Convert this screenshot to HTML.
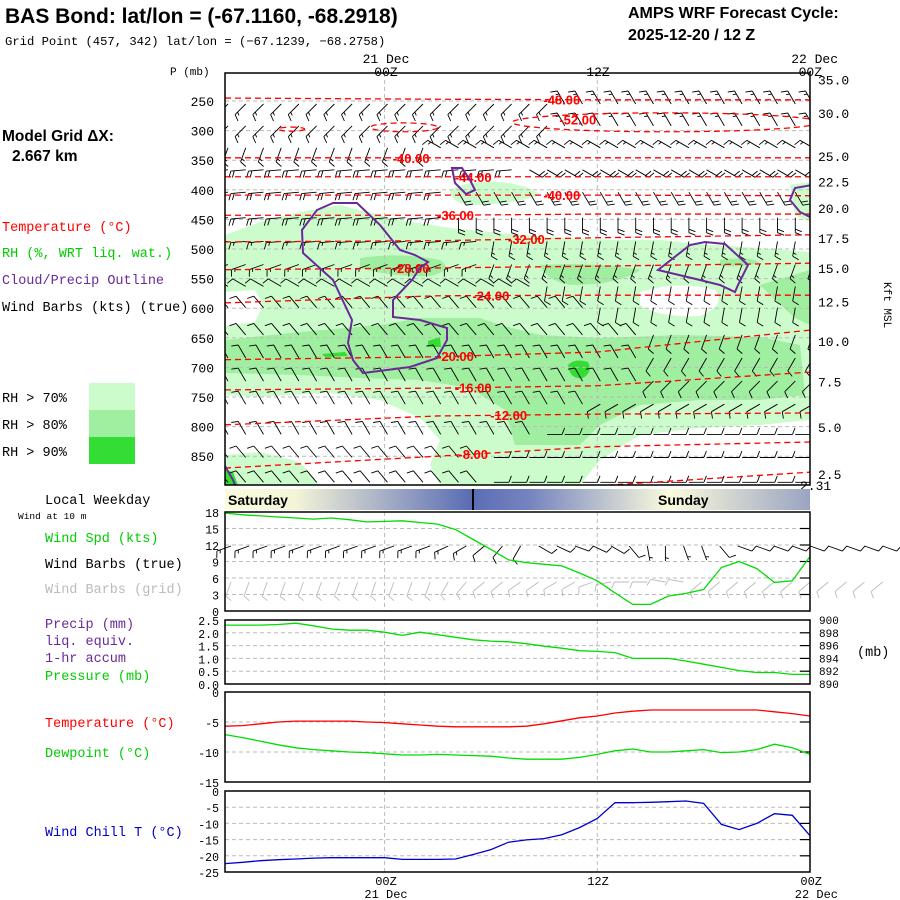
<!DOCTYPE html>
<html><head><meta charset="utf-8"><style>
html,body{margin:0;padding:0;background:#fff;}
svg{display:block;}
.m{font-family:"Liberation Mono",monospace;}
.s{font-family:"Liberation Sans",sans-serif;}
</style></head><body>
<svg id="chart" width="900" height="900" viewBox="0 0 900 900" xmlns="http://www.w3.org/2000/svg">
<defs>
<linearGradient id="wk" x1="0" x2="1" y1="0" y2="0">
<stop offset="0" stop-color="#fbfbdc"/><stop offset="0.12" stop-color="#f4f4d8"/>
<stop offset="0.42" stop-color="#5a6cb4"/><stop offset="0.52" stop-color="#7584bf"/>
<stop offset="0.76" stop-color="#fbfbdc"/><stop offset="1" stop-color="#9aa4c2"/>
</linearGradient>
<clipPath id="topclip"><rect x="225" y="73" width="585" height="412"/></clipPath>
</defs>
<g class="s" font-weight="bold">
<text x="5" y="23" font-size="21">BAS Bond:  lat/lon = (-67.1160, -68.2918)</text>
<text x="628" y="18" font-size="16">AMPS WRF Forecast Cycle:</text>
<text x="628" y="40" font-size="16">2025-12-20 / 12  Z</text>
</g>
<text class="m" x="5" y="45" font-size="12.2">Grid Point (457, 342) lat/lon = (−67.1239, −68.2758)</text>
<g class="s" font-weight="bold" font-size="15.5">
<text x="2" y="141">Model Grid ΔX:</text><text x="12" y="161">2.667 km</text></g>
<g class="m" font-size="13.5">
<text x="2" y="231" fill="#ff0000">Temperature (°C)</text>
<text x="2" y="257" fill="#00cc00">RH (%, WRT liq. wat.)</text>
<text x="2" y="284" fill="#6a2a9a">Cloud/Precip Outline</text>
<text x="2" y="311" fill="#000">Wind Barbs (kts) (true)</text>
<text x="2" y="402">RH &gt; 70%</text>
<text x="2" y="429">RH &gt; 80%</text>
<text x="2" y="456">RH &gt; 90%</text>
</g>
<rect x="89" y="383" width="46" height="27" fill="#ccfccc"/>
<rect x="89" y="410" width="46" height="27" fill="#a0eea0"/>
<rect x="89" y="437" width="46" height="27" fill="#33dd33"/>

<g clip-path="url(#topclip)">
<path fill="#ccfccc" d="M225,235 L260,222 L300,212 L340,205 L400,220 L450,228 L500,233 L560,238 L620,240 L660,240 L700,244 L760,248 L810,252 L810,420 L760,425 L700,428 L640,435 L600,460 L580,485 L440,485 L430,465 L440,440 L420,418 L380,400 L330,393 L290,395 L260,397 L225,395 Z"/>
<path fill="#ccfccc" d="M225,455 L260,452 L300,462 L320,485 L225,485 Z"/>
<path fill="#ccfccc" d="M450,190 Q470,180 500,182 Q530,185 540,195 Q510,205 470,205 Q450,203 450,190 Z"/>
<path fill="#ccfccc" d="M790,185 L810,182 L810,222 L795,215 Z"/>
<path fill="#fff" d="M225,292 L255,290 L263,305 L255,322 L225,326 Z"/>
<path fill="#fff" d="M640,292 Q680,280 715,290 Q727,305 700,316 Q660,318 640,305 Z"/>
<path fill="#a0eea0" d="M225,340 L300,332 L380,325 L420,318 L480,318 L500,325 L540,335 L600,338 L680,335 L760,337 L800,345 L805,395 L760,400 L700,400 L640,405 L600,425 L580,445 L515,445 L505,410 L470,388 L420,380 L360,378 L300,375 L225,373 Z"/>
<path fill="#a0eea0" d="M360,258 Q400,252 440,260 Q455,270 430,276 Q390,277 360,268 Z"/>
<path fill="#a0eea0" d="M540,265 Q600,262 640,270 Q620,285 570,285 Q545,280 540,265 Z"/>
<path fill="#a0eea0" d="M720,260 Q745,256 760,262 Q745,268 720,266 Z"/>
<path fill="#a0eea0" d="M760,285 L810,270 L810,325 L795,318 Q775,300 760,285 Z"/>
<path fill="#33dd33" d="M428,341 L440,337 L441,347 L428,347 Z"/>
<path fill="#33dd33" d="M322,354 L345,352 L348,356 L325,357 Z"/>
<path fill="#33dd33" d="M568,365 Q575,358 588,362 Q593,372 583,378 Q570,380 568,365 Z"/>
<path fill="#33dd33" d="M225,470 L233,472 L238,485 L225,485 Z"/>
</g>
<g id="grid-top"></g>
<g id="barbs-top" clip-path="url(#topclip)"></g>
<g id="contours" clip-path="url(#topclip)"></g>
<g clip-path="url(#topclip)" fill="none" stroke="#6a2a9a" stroke-width="2">
<path d="M333,203 L357,203 L380,225 L400,250 L415,255 L428,262 L420,268 L412,280 L393,300 L393,317 L420,320 L447,328 L447,340 L437,358 L410,367 L363,373 L353,360 L348,343 L352,320 L333,280 L303,253 L302,230 L317,210 Z"/>
<path d="M452,168 L462,168 L470,180 L475,190 L466,194 L455,183 Z"/>
<path d="M658,270 L690,245 L705,242 L725,244 L748,265 L738,285 L735,292 L720,285 L700,280 Z"/>
<path d="M812,185 L795,188 L790,200 L800,212 L812,218"/>
<path d="M225,466 L233,480 L237,490"/>
</g>
<rect x="225" y="73" width="585" height="412" fill="none" stroke="#000" stroke-width="1.5"/>
<g id="axes-top" class="m" font-size="13"></g>

<rect x="225" y="489" width="585" height="21" fill="url(#wk)"/>
<line x1="473" y1="489" x2="473" y2="510" stroke="#000" stroke-width="2"/>
<text class="s" font-weight="bold" font-size="14" x="228" y="505">Saturday</text>
<text class="s" font-weight="bold" font-size="14" x="658" y="505">Sunday</text>

<g class="m" font-size="13.5">
<text x="45" y="504">Local Weekday</text>
<text x="18" y="519" font-size="9.5">Wind at 10 m</text>
<text x="45" y="542" fill="#00cc00">Wind Spd (kts)</text>
<text x="45" y="568">Wind Barbs (true)</text>
<text x="45" y="593" fill="#bbbbbb">Wind Barbs (grid)</text>
<text x="45" y="628" fill="#6a2a9a">Precip (mm)</text>
<text x="45" y="645" fill="#6a2a9a">liq. equiv.</text>
<text x="45" y="662" fill="#6a2a9a">1-hr accum</text>
<text x="45" y="680" fill="#00cc00">Pressure (mb)</text>
<text x="45" y="727" fill="#ff0000">Temperature (°C)</text>
<text x="45" y="757" fill="#00cc00">Dewpoint (°C)</text>
<text x="45" y="836" fill="#0000cc">Wind Chill T (°C)</text>
</g>
<g id="lower"></g>
</svg>
<script>
// ===== data =====
const hours = [-9,-8,-7,-6,-5,-4,-3,-2,-1,0,1,2,3,4,5,6,7,8,9,10,11,12,13,14,15,16,17,18,19,20,21,22,23,24];
const windSpd = [17.8,17.5,17.3,17.1,16.9,16.7,16.9,16.6,16.2,16.3,16.4,16.1,15.8,14.8,13.0,11.2,9.3,8.8,8.5,8.2,6.9,5.5,3.3,1.2,1.2,2.7,3.2,3.9,7.9,9.0,7.7,5.2,5.5,9.9];
const pressure = [899.2,899.2,899.2,899.3,899.5,899.1,898.6,898.4,898.4,898.1,897.6,898.1,897.7,897.3,896.9,896.7,896.6,896.3,895.9,895.6,895.2,895.1,894.9,894.0,894.0,894.0,893.6,893.1,892.6,892.1,891.8,891.8,891.5,891.5];
const precip = [0,0,0,0,0,0,0,0,0,0,0,0,0,0,0,0,0,0,0,0,0,0,0,0,0,0,0,0,0,0,0,0,0,0];
const temperature = [-5.7,-5.6,-5.3,-5.0,-4.85,-4.85,-4.85,-4.85,-5.0,-5.1,-5.3,-5.5,-5.7,-5.8,-5.8,-5.8,-5.8,-5.7,-5.3,-4.8,-4.3,-4.0,-3.5,-3.2,-3.0,-3.0,-3.0,-3.0,-3.0,-3.0,-3.0,-3.3,-3.6,-4.0];
const dewpoint = [-7.1,-7.6,-8.2,-8.8,-9.3,-9.6,-9.8,-10.0,-10.1,-10.3,-10.5,-10.5,-10.4,-10.5,-10.6,-10.7,-11.0,-11.2,-11.2,-11.2,-10.9,-10.4,-9.8,-9.5,-10.0,-10.0,-9.8,-9.6,-10.1,-10.0,-9.6,-8.7,-9.3,-10.4];
const windChill = [-22.4,-22.0,-21.5,-21.2,-21.0,-20.7,-20.6,-20.6,-20.6,-20.6,-21.1,-21.1,-21.1,-21.0,-19.6,-18.1,-15.8,-15.1,-14.7,-13.5,-11.3,-8.5,-3.6,-3.6,-3.5,-3.3,-3.1,-3.8,-10.3,-11.9,-10.0,-7.0,-7.5,-13.8];
const sfcDirTrue = [250,250,250,250,250,250,250,250,250,250,250,250,245,240,230,220,210,120,115,110,115,120,140,170,180,160,160,140,110,110,110,110,110,110,110,110,110];
const sfcSpdTrue = [15,15,15,15,15,15,15,15,15,15,15,15,15,13,10,10,10,10,10,10,10,10,8,5,5,5,5,10,10,10,10,10,10,10,10,10,10];
const sfcDirGrid = [200,200,200,200,200,200,200,200,200,200,200,200,210,220,230,230,235,235,240,240,250,260,270,270,280,280,230,230,230,230,230,230,230,230,230,230,230];
const contourLevels = [-48,-40,-44,-40,-36,-32,-28,-24,-20,-16,-12,-8,-4];
const contourNodeHours = [-9,3,12,24];
const contourP = [[245,247,248,248],[346,346,346,346],[378,378,378,378],[409,409,409,410],[443,443,441,441],[488,486,481,476],[535,532,529,524],[591,579,578,578],[687,682,674,637],[738,735,731,708],[797,782,779,777],[870,850,834,826],[null,null,900,877]];
const contourLabelHour = [10,1.5,5,10,4,8,1.5,6,4,5,7,5,null];
const barbRowP = [245,282,319,356,394,437,477,516,553,589,635,674,713,752,803,842,884];
const barbDirL = [225,225,200,265,265,265,265,250,300,320,320,330,330,330,330,320,320];
const barbDirR = [330,330,300,120,150,180,190,200,190,190,200,210,225,240,90,90,90];
const barbSpd = [15,15,15,20,20,20,15,15,10,10,10,10,10,10,10,10,10];
const barbSwitchHour = [10,10,3,8,4,4,6,6,9,12,15,15,15,12,9,6,6];
const pTicks = [250,300,350,400,450,500,550,600,650,700,750,800,850];
const kmTicks = ['35.0','30.0','25.0','22.5','20.0','17.5','15.0','12.5','10.0','7.5','5.0','2.5'];
const kmTickP = [214,270,343,386,431,481,532,589,655,724,801,880];

// ===== scales =====
const X0=225,X1=810,H0=-9,H1=24;
const xH = h => X0 + (h-H0)*(X1-X0)/(H1-H0);
const yP = p => 101 + (p-250)*29.6/50;
const ySpd = v => 611 - v*99/18;
const yPres = p => 684 - (p-890)*6.4;
const yPrc = v => 684 - v*64/2.5;
const yT = t => 692 - t*6;
const yWC = t => 791 - t*81/25;
const NS='http://www.w3.org/2000/svg';
function mk(tag, attrs, parent){const e=document.createElementNS(NS,tag);for(const k in attrs)e.setAttribute(k,attrs[k]);parent.appendChild(e);return e;}
function txt(parent,x,y,s,attrs,name){const t=mk('text',Object.assign({x:x,y:y},attrs||{}),parent);t.textContent=s;
  
  return t;}

function barb(parent,x,y,dir,spd,color){
  const g=mk('g',{stroke:color,'stroke-width':0.9,fill:'none'},parent);
  
  
  const r=dir*Math.PI/180, L=15;
  const ex=x+L*Math.sin(r), ey=y-L*Math.cos(r);
  let d=`M${x.toFixed(1)},${y.toFixed(1)} L${ex.toFixed(1)},${ey.toFixed(1)}`;
  const br=r-Math.PI/2.6; let s=Math.round(spd/5)*5; let k=0;
  while(s>=10){const bx=ex-k*3.5*Math.sin(r), by=ey+k*3.5*Math.cos(r);
    d+=` M${bx.toFixed(1)},${by.toFixed(1)} l${(7*Math.sin(br)).toFixed(1)},${(-7*Math.cos(br)).toFixed(1)}`; s-=10;k++;}
  if(s>=5){if(k===0)k=1;const bx=ex-k*3.5*Math.sin(r), by=ey+k*3.5*Math.cos(r);
    d+=` M${bx.toFixed(1)},${by.toFixed(1)} l${(3.5*Math.sin(br)).toFixed(1)},${(-3.5*Math.cos(br)).toFixed(1)}`;}
  mk('path',{d:d},g);
}

// ===== top panel =====
const gt=document.getElementById('grid-top');
pTicks.forEach(p=>{const l=mk('line',{x1:X0,x2:X1,y1:yP(p),y2:yP(p),stroke:'#bbb','stroke-dasharray':'4,3'},gt);
  
  });
[0,12].forEach(h=>{const l=mk('line',{x1:xH(h),x2:xH(h),y1:73,y2:485,stroke:'#bbb','stroke-dasharray':'4,3'},gt);
  
  });

const bt=document.getElementById('barbs-top');
barbRowP.forEach((p,i)=>{
  for(let h=-9;h<=24;h++){
    const dir = h<barbSwitchHour[i]?barbDirL[i]:barbDirR[i];
    barb(bt,xH(h)+3,yP(p)+6,dir,barbSpd[i],'#000');
  }
});

const gc=document.getElementById('contours');
contourLevels.forEach((lv,i)=>{
  const pts=[];
  contourNodeHours.forEach((h,j)=>{const p=contourP[i][j]; if(p!==null)pts.push([xH(h),yP(p)]);});
  const pl=mk('polyline',{points:pts.map(q=>q.join(',')).join(' '),fill:'none',stroke:'#ff0000','stroke-width':1.3,'stroke-dasharray':'6,4'},gc);
  
  
  const lh=contourLabelHour[i];
  if(lh!==null){
    let j=0; while(j<contourNodeHours.length-2 && lh>contourNodeHours[j+1]) j++;
    const t=(lh-contourNodeHours[j])/(contourNodeHours[j+1]-contourNodeHours[j]);
    const p=contourP[i][j]+t*(contourP[i][j+1]-contourP[i][j]);
    const tx=mk('text',{x:xH(lh),y:yP(p)+5,fill:'#ff0000','font-family':'Liberation Sans, sans-serif','font-weight':'bold','font-size':13,'text-anchor':'middle'},gc);
    tx.textContent=lv.toFixed(2);
    
    
  }
});
[[7.2,24.5,270,302],[-0.8,3,287,302],[-6,-4.5,294,301]].forEach(e=>{
  const cx=(xH(e[0])+xH(e[1]))/2, rx=(xH(e[1])-xH(e[0]))/2, cy=(yP(e[2])+yP(e[3]))/2, ry=(yP(e[3])-yP(e[2]))/2;
  const el=mk('ellipse',{cx:cx,cy:cy,rx:rx,ry:ry,fill:'none',stroke:'#ff0000','stroke-width':1.3,'stroke-dasharray':'6,4'},gc);
  
  
});
{const tx=mk('text',{x:xH(10.9),y:yP(281)+5,fill:'#ff0000','font-family':'Liberation Sans, sans-serif','font-weight':'bold','font-size':13,'text-anchor':'middle'},gc);
 tx.textContent='-52.00';
 
 }

const at=document.getElementById('axes-top');
pTicks.forEach(p=>txt(at,214,yP(p)+5,String(p),{'text-anchor':'end'},'pressure-tick'));
kmTicks.forEach((k,i)=>txt(at,818,yP(kmTickP[i])+5,k,{},'height-tick'));
txt(at,800,490,'2.31',{},'surface-height');
txt(at,170,75,'P (mb)',{'font-size':11},'pressure-axis-title');
txt(at,386,63,'21 Dec',{'text-anchor':'middle'},'date-label');
txt(at,386,76,'00Z',{'text-anchor':'middle'},'time-label');
txt(at,598,76,'12Z',{'text-anchor':'middle'},'time-label');
txt(at,838,63,'22 Dec',{'text-anchor':'end'},'date-label');
txt(at,822,76,'00Z',{'text-anchor':'end'},'time-label');
txt(at,884,282,'Kft MSL',{'font-size':11,transform:'rotate(90 884 282)'},'height-axis-title');

// ===== lower panels =====
const lo=document.getElementById('lower');
function P(y0,y1,tickVals,labels,yf,name){
  const g=mk('g',{},lo);
  
  
  tickVals.forEach((t,i)=>{
    const y=yf(t);
    if(y>y0+1 && y<y1-1){
      const l=mk('line',{x1:X0,x2:X1,y1:y,y2:y,stroke:'#bbb','stroke-dasharray':'4,3'},g);
      
      
      const k=mk('line',{x1:X1-10,x2:X1,y1:y,y2:y,stroke:'#000','stroke-width':1.2},g);
      
      
    }
    txt(g,219,y+5,labels[i],{'font-family':'Liberation Mono, monospace','font-size':11.5,'text-anchor':'end'},'y-tick-label');
  });
  [0,12].forEach(h=>{const l=mk('line',{x1:xH(h),x2:xH(h),y1:y0,y2:y1,stroke:'#bbb','stroke-dasharray':'4,3'},g);
    
    });
  return g;
}
function L(g,vals,yf,color,name){
  const pts=hours.map((h,i)=>xH(h).toFixed(1)+','+yf(vals[i]).toFixed(1)).join(' ');
  const p=mk('polyline',{points:pts,fill:'none',stroke:color,'stroke-width':1.3},g);
  
  
}
function F(g,y0,y1){const r=mk('rect',{x:X0,y:y0,width:X1-X0,height:y1-y0,fill:'none',stroke:'#000','stroke-width':1.5},g);
  
  }
const spdT=[18,15,12,9,6,3,0];
let g=P(512,611,spdT,spdT.map(String),ySpd,'wind-panel');
sfcDirGrid.forEach((d,i)=>barb(g,231+i*18.1,582,d,10,'#bbbbbb'));
sfcDirTrue.forEach((d,i)=>barb(g,231+i*18.1,546,d,sfcSpdTrue[i],'#000'));
L(g,windSpd,ySpd,'#00dd00','wind-speed-line');
F(g,512,611);
const prT=[2.5,2.0,1.5,1.0,0.5,0.0];
g=P(620,684,prT,prT.map(v=>v.toFixed(1)),yPrc,'pressure-panel');
const presT=[900,898,896,894,892,890];
presT.forEach(p=>txt(g,819,yPres(p)+4,String(p),{'font-family':'Liberation Mono, monospace','font-size':11},'pressure-tick'));
txt(g,857,656,'(mb)',{'font-family':'Liberation Mono, monospace','font-size':13.5},'pressure-units');
hours.forEach((h,i)=>{if(precip[i]>0){const r=mk('rect',{x:xH(h)-4,y:yPrc(precip[i]),width:8,height:684-yPrc(precip[i]),fill:'#6a2a9a'},g);
  
  }});
L(g,pressure,yPres,'#00dd00','pressure-line');
F(g,620,684);
const tT=[0,-5,-10,-15];
g=P(692,782,tT,tT.map(String),yT,'temperature-panel');
L(g,temperature,yT,'#ff0000','temperature-line');
L(g,dewpoint,yT,'#00dd00','dewpoint-line');
F(g,692,782);
const wT=[0,-5,-10,-15,-20,-25];
g=P(791,872,wT,wT.map(String),yWC,'wind-chill-panel');
L(g,windChill,yWC,'#0000cc','wind-chill-line');
F(g,791,872);
const ax=mk('g',{'font-family':'Liberation Mono, monospace','font-size':12},lo);


txt(ax,386,885,'00Z',{'text-anchor':'middle'},'time-label');
txt(ax,386,898,'21 Dec',{'text-anchor':'middle'},'date-label');
txt(ax,598,885,'12Z',{'text-anchor':'middle'},'time-label');
txt(ax,822,885,'00Z',{'text-anchor':'end'},'time-label');
txt(ax,838,898,'22 Dec',{'text-anchor':'end'},'date-label');
</script>
</body></html>
